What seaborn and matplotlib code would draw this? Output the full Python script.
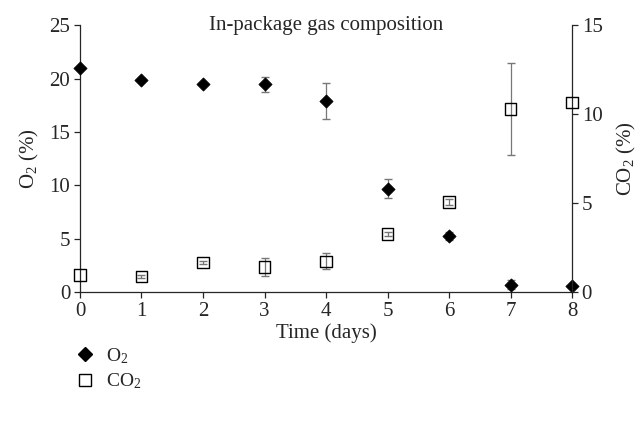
import matplotlib
matplotlib.use("Agg")
import matplotlib.pyplot as plt
import seaborn as sns
import pandas as pd

# values
days = [0, 1, 2, 3, 4, 5, 6, 7, 8]
o2 = [21.0, 19.9, 19.5, 19.45, 17.9, 9.7, 5.25, 0.7, 0.6]
o2_err = [0.0, 0.1, 0.1, 0.7, 1.7, 0.85, 0.35, 0.4, 0.0]
co2 = [0.95, 0.88, 1.66, 1.4, 1.72, 3.26, 5.07, 10.3, 10.65]
co2_err = [0.0, 0.1, 0.1, 0.5, 0.45, 0.1, 0.15, 2.57, 0.0]

df = pd.DataFrame({"day": days, "o2": o2, "o2_err": o2_err,
                   "co2": co2, "co2_err": co2_err})

sns.set_style("ticks")
plt.rcParams['font.family'] = ['Liberation Serif', 'DejaVu Serif']
plt.rcParams['mathtext.fontset'] = 'custom'
plt.rcParams['mathtext.rm'] = 'Liberation Serif'
fs = 15

fig = plt.figure(figsize=(6.42, 4.34), dpi=100)
ax = fig.add_axes([0.1246, 0.327, 0.7664, 0.615])
ax2 = ax.twinx()

# error bars first (grey), only where there is a spread
e1 = df[df["o2_err"] > 0]
e2 = df[df["co2_err"] > 0]
ax.errorbar(e1["day"], e1["o2"], yerr=e1["o2_err"], fmt="none",
            ecolor="#777777", elinewidth=0.9, capsize=3, zorder=1)
ax2.errorbar(e2["day"], e2["co2"], yerr=e2["co2_err"], fmt="none",
             ecolor="#777777", elinewidth=0.9, capsize=3, zorder=1)

sns.scatterplot(data=df, x="day", y="o2", ax=ax, marker="D", s=45,
                color="black", edgecolor="black", zorder=3, clip_on=False)
sns.scatterplot(data=df, x="day", y="co2", ax=ax2, marker="s", s=70,
                facecolor="none", edgecolor="black", linewidth=1.0,
                zorder=3, clip_on=False)

ax.set_xlim(0, 8)
ax.set_ylim(0, 25)
ax2.set_ylim(0, 15)
ax.set_xticks(range(0, 9))
ax.set_yticks([0, 5, 10, 15, 20, 25])
ax2.set_yticks([0, 5, 10, 15])

ax.set_xlabel("Time (days)", fontsize=fs, labelpad=2)
ax.set_ylabel(r"$\mathregular{O_2}$ (%)", fontsize=fs, labelpad=6)
ax2.set_ylabel(r"$\mathregular{CO_2}$ (%)", fontsize=fs, labelpad=9)
ax.text(4, 25, "In-package gas composition", ha="center", va="center",
        fontsize=fs)

for a in (ax, ax2):
    a.spines["top"].set_visible(False)
    for s in a.spines.values():
        s.set_linewidth(0.9)
    a.tick_params(direction="out", length=4, width=0.9, labelsize=fs, pad=3)
ax.spines["right"].set_visible(False)
ax2.spines["left"].set_visible(False)
ax2.spines["bottom"].set_visible(False)

# legend below the plot
h1 = plt.Line2D([], [], marker="D", color="black", linestyle="none",
                markersize=7)
h2 = plt.Line2D([], [], marker="s", markerfacecolor="none",
                markeredgecolor="black", linestyle="none", markersize=9)
fig.legend([h1, h2], [r"$\mathregular{O_2}$", r"$\mathregular{CO_2}$"],
           loc="upper left", bbox_to_anchor=(0.09, 0.243), frameon=False,
           fontsize=fs - 1, handletextpad=0.6, labelspacing=0.3,
           handlelength=1.0)

fig.savefig("out.png", dpi=100)
